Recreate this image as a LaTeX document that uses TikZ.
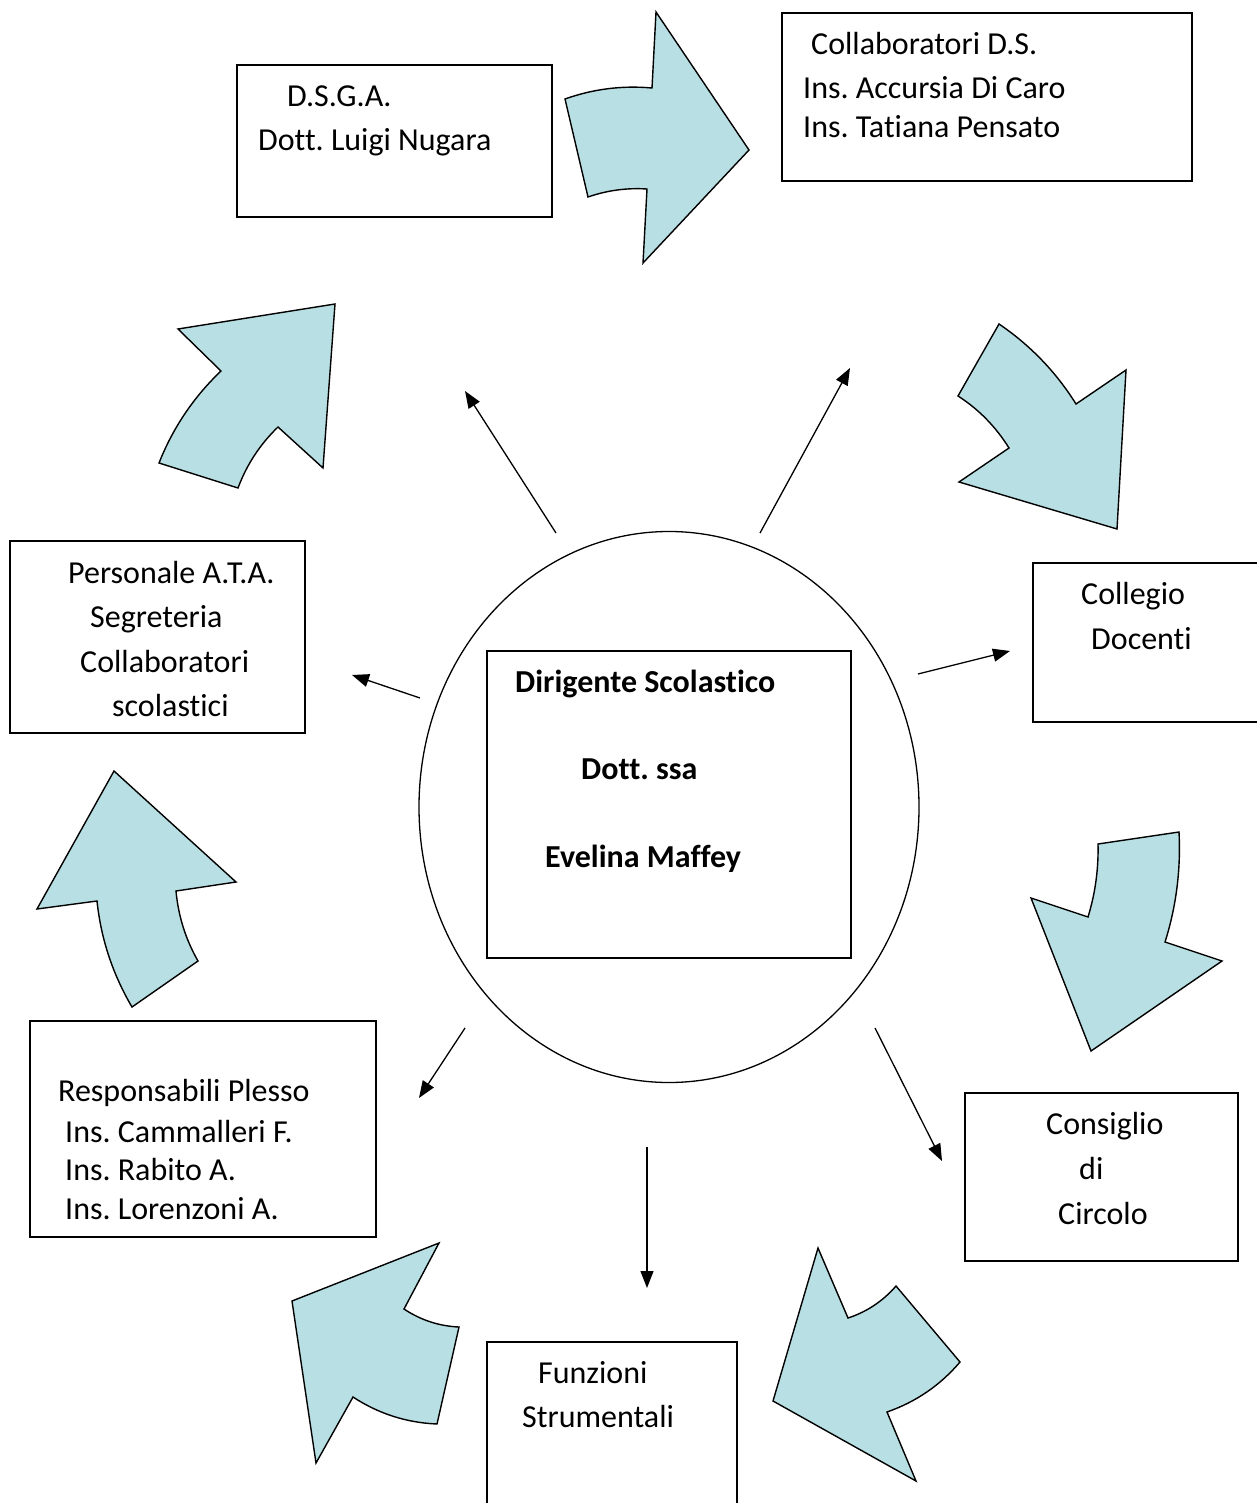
\documentclass[tikz,border=0pt]{standalone}
\usepackage{fontspec}
\setmainfont{Carlito}[Ligatures=NoCommon]
\usetikzlibrary{arrows.meta,shapes.geometric}
\definecolor{arrowblue}{RGB}{184,223,227}
\frenchspacing
\begin{document}
\begin{tikzpicture}[x=1pt,y=-1pt,
  box/.style={draw,line width=1.4pt,rectangle,inner sep=0pt,outer sep=0pt},
  txt/.style={anchor=base west,inner sep=0pt,font=\fontsize{32}{38}\selectfont},
  btxt/.style={txt,font=\fontsize{32}{38}\selectfont\bfseries},
  bigarrow/.style={draw,line width=1.4pt,fill=arrowblue,line join=miter},
  ray/.style={draw,line width=1.3pt,-{Triangle[length=17pt,width=13pt]}}]
\useasboundingbox (0,0) rectangle (1256,1503);
\fill[white] (0,0) rectangle (1256,1503);

% boxes
\node[box,minimum width=315pt,minimum height=152pt] (dsga) at (394.5,141) {};
\node[box,minimum width=410pt,minimum height=168pt] (collab) at (987,97) {};
\node[box,minimum width=243pt,minimum height=159pt] (collegio) at (1154.5,642.5) {};
\node[box,minimum width=295pt,minimum height=192pt] (personale) at (157.5,637) {};
\node[box,minimum width=346pt,minimum height=216pt] (resp) at (203,1129) {};
\node[box,minimum width=273pt,minimum height=168pt] (consiglio) at (1101.5,1177) {};
\node[box,minimum width=250pt,minimum height=178pt] (funzioni) at (612,1431) {};
\node[draw,line width=1.3pt,ellipse,minimum width=500pt,minimum height=551pt,inner sep=0pt] (centre) at (669,807) {};
\node[box,minimum width=364pt,minimum height=307pt] (inner) at (669,804.5) {};

% texts
\node[txt] (t1) at (287,107) {D.S.G.A.};
\node[txt] (t2) at (258,151) {Dott. Luigi Nugara};
\node[txt] (t3) at (811,55) {Collaboratori D.S.};
\node[txt] (t4) at (803,99) {Ins. Accursia Di Caro};
\node[txt] (t5) at (803,138) {Ins. Tatiana Pensato};
\node[txt] (t6) at (1081,604) {Collegio};
\node[txt] (t7) at (1091,649) {Docenti};
\node[txt] (t8) at (68,583) {Personale A.T.A.};
\node[txt] (t9) at (90,627) {Segreteria};
\node[txt] (t10) at (80,672) {Collaboratori};
\node[txt] (t11) at (112,716) {scolastici};
\node[btxt] (t12) at (515,692) {Dirigente Scolastico};
\node[btxt] (t13) at (581,779) {Dott. ssa};
\node[btxt] (t14) at (545,867) {Evelina Maffey};
\node[txt] (t15) at (58,1101) {Responsabili Plesso};
\node[txt] (t16) at (65,1142) {Ins. Cammalleri F.};
\node[txt] (t17) at (65,1180) {Ins. Rabito A.};
\node[txt] (t18) at (65,1219) {Ins. Lorenzoni A.};
\node[txt] (t19) at (1046,1134) {Consiglio};
\node[txt] (t20) at (1079,1179) {di};
\node[txt] (t21) at (1058,1224) {Circolo};
\node[txt] (t22) at (538,1383) {Funzioni};
\node[txt] (t23) at (522,1427) {Strumentali};

% big curved arrows
\draw[bigarrow] (565,99) .. controls (593,89) and (622,85.3) .. (652,88) -- (656,12) -- (749,150) -- (643,263) -- (647,189) .. controls (627,187.7) and (607.3,190.3) .. (588,197) -- cycle;
\draw[bigarrow] (335,304) -- (323,468) -- (278,427) .. controls (260,444.3) and (246.7,464.7) .. (238,488) -- (159,463) .. controls (173,427.7) and (193.7,397) .. (221,371) -- (178,329) -- cycle;
\draw[bigarrow] (999,324) .. controls (1030.3,345.3) and (1056,372) .. (1076,404) -- (1126,370) -- (1117,529) -- (959,482) -- (1009,448) .. controls (995.7,426.7) and (978.7,409.3) .. (958,396) -- cycle;
\draw[bigarrow] (1098,844) -- (1179,832) .. controls (1180.9,869.5) and (1176.3,906.2) .. (1165,942) -- (1222,961) -- (1091,1051) -- (1031,898) -- (1088,917) .. controls (1095.3,893.2) and (1098.6,868.9) .. (1098,844) -- cycle;
\draw[bigarrow] (114,771) -- (236,882) -- (176,891) .. controls (178.3,916) and (185.6,939.3) .. (198,961) -- (132,1007) .. controls (112.7,974.2) and (101,938.9) .. (97,901) -- (37,909) -- cycle;
\draw[bigarrow] (439,1243) -- (404,1309) .. controls (420.7,1320.1) and (439,1326.1) .. (459,1327) -- (437,1424) .. controls (406.5,1422.7) and (378.5,1413.7) .. (353,1397) -- (316,1463) -- (292,1301) -- cycle;
\draw[bigarrow] (818,1248) -- (848,1318) .. controls (866.9,1311.8) and (882.9,1301.1) .. (896,1286) -- (960,1362) .. controls (940.2,1385.3) and (915.9,1401.9) .. (887,1412) -- (916,1481) -- (773,1401) -- cycle;

% straight rays
\coordinate (s1) at (556,533); \coordinate (e1) at (465,391);
\coordinate (s2) at (760,533); \coordinate (e2) at (850,368);
\coordinate (s3) at (420,698); \coordinate (e3) at (352,675);
\coordinate (s4) at (918,674); \coordinate (e4) at (1010,651);
\coordinate (s5) at (465,1028); \coordinate (e5) at (419,1098);
\coordinate (s6) at (875,1028); \coordinate (e6) at (942,1161);
\coordinate (s7) at (647,1147); \coordinate (e7) at (647,1288);
\draw[ray] (s1) -- (e1);
\draw[ray] (s2) -- (e2);
\draw[ray] (s3) -- (e3);
\draw[ray] (s4) -- (e4);
\draw[ray] (s5) -- (e5);
\draw[ray] (s6) -- (e6);
\draw[ray] (s7) -- (e7);
\end{tikzpicture}
\end{document}
